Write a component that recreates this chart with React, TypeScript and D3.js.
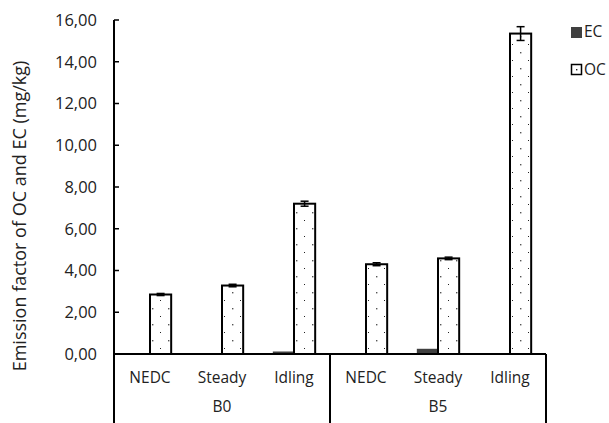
import React from "react";
import * as d3 from "d3";

const groups = ["B0", "B5"];
const modes = ["NEDC", "Steady", "Idling"];
const ecValues = [0.02, 0.03, 0.12, 0.03, 0.25, 0.03];
const ocValues = [2.85, 3.28, 7.2, 4.3, 4.58, 15.35];
const ocErrors = [0.05, 0.06, 0.12, 0.07, 0.06, 0.33];
const yTicks = [0, 2, 4, 6, 8, 10, 12, 14, 16];

const width = 609;
const height = 423;
const left = 114;
const right = 546;
const top = 20;
const base = 354;
const font = "'Open Sans', 'Noto Sans', sans-serif";

export default function App() {
  const cats = groups.flatMap((g) => modes.map((m) => `${g}-${m}`));
  const x = d3.scaleBand().domain(cats).range([left, right]).paddingInner(0).paddingOuter(0);
  const inner = d3.scaleBand().domain(["EC", "OC"]).range([0, x.bandwidth()]).paddingInner(0).paddingOuter(0.7);
  const y = d3.scaleLinear().domain([0, 16]).range([base, top]);
  const gx = d3.scaleBand().domain(groups).range([left, right]);
  const fmt = (v: number) => v.toFixed(2).replace(".", ",");

  return (
    <svg width={width} height={height} style={{ position: "absolute", left: 0, top: 0 }}>
      <defs>
        <pattern id="dots" patternUnits="userSpaceOnUse" width="16" height="16" x="0" y="2">
          <rect width="16" height="16" fill="#fff" />
          <rect x="8" y="2" width="1.4" height="1.4" fill="#555" />
          <rect x="0" y="10" width="1" height="1" fill="#222" />
        </pattern>
      </defs>
      <rect width={width} height={height} fill="#fff" />

      {/* y axis */}
      <line x1={left} x2={left} y1={top} y2={height} stroke="#000" strokeWidth={2} />
      {yTicks.map((t) => (
        <g key={t}>
          <line x1={left} x2={left + 5} y1={y(t)} y2={y(t)} stroke="#000" strokeWidth={1.5} />
          <text x={97} y={y(t)} dy="0.35em" textAnchor="end" fontFamily={font} fontSize={16.5} fill="#222">
            {fmt(t)}
          </text>
        </g>
      ))}
      <text
        transform={`translate(26,${216}) rotate(-90)`}
        textAnchor="middle"
        fontFamily={font}
        fontSize={18}
        fill="#222"
      >
        Emission factor of OC and EC (mg/kg)
      </text>

      {/* bars */}
      {cats.map((c, i) => {
        const x0 = x(c)!;
        const ecX = x0 + inner("EC")!;
        const ocX = x0 + inner("OC")!;
        const bw = inner.bandwidth();
        const ocTop = y(ocValues[i]);
        const eHi = y(ocValues[i] + ocErrors[i]);
        const eLo = y(ocValues[i] - ocErrors[i]);
        const cx = ocX + bw / 2;
        return (
          <g key={c}>
            <rect x={ecX} y={y(ecValues[i])} width={bw} height={base - y(ecValues[i])} fill="#404040" />
            <rect
              x={ocX}
              y={ocTop}
              width={bw}
              height={base - ocTop}
              fill="url(#dots)"
              stroke="#000"
              strokeWidth={2}
            />
            <line x1={cx} x2={cx} y1={eHi} y2={eLo} stroke="#000" strokeWidth={1.5} />
            <line x1={cx - 4} x2={cx + 4} y1={eHi} y2={eHi} stroke="#000" strokeWidth={1.5} />
            <line x1={cx - 4} x2={cx + 4} y1={eLo} y2={eLo} stroke="#000" strokeWidth={1.5} />
            <text
              x={x0 + x.bandwidth() / 2}
              y={378}
              dy="0.35em"
              textAnchor="middle"
              fontFamily={font}
              fontSize={15.5}
              fill="#222"
            >
              {modes[i % 3]}
            </text>
          </g>
        );
      })}

      {/* x axis */}
      <line x1={left} x2={right} y1={base} y2={base} stroke="#000" strokeWidth={2} />
      {groups.map((g) => (
        <g key={g}>
          <line x1={gx(g)! + gx.bandwidth()} x2={gx(g)! + gx.bandwidth()} y1={base} y2={height} stroke="#000" strokeWidth={2} />
          <text
            x={gx(g)! + gx.bandwidth() / 2}
            y={407}
            dy="0.35em"
            textAnchor="middle"
            fontFamily={font}
            fontSize={15.5}
            fill="#222"
          >
            {g}
          </text>
        </g>
      ))}

      {/* legend */}
      <rect x={571} y={27} width={11} height={11} fill="#404040" />
      <text x={584} y={32} dy="0.35em" fontFamily={font} fontSize={15.5} fill="#222">EC</text>
      <rect x={571.5} y={64.5} width={10} height={10} fill="#fff" stroke="#000" strokeWidth={1.5} />
      <rect x={576} y={69} width={1.4} height={1.4} fill="#222" />
      <text x={584} y={70} dy="0.35em" fontFamily={font} fontSize={15.5} fill="#222">OC</text>
    </svg>
  );
}
